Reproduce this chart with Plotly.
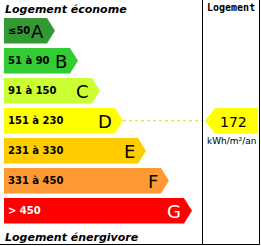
import plotly.graph_objects as go

# ---- data ----
classes = ["A", "B", "C", "D", "E", "F", "G"]
ranges = ["≤50", "51 à 90", "91 à 150", "151 à 230", "231 à 330", "331 à 450", "> 450"]
bar_lengths = [43, 66, 88, 111, 134, 157, 180]   # drawn length of each class bar body
colors = ["#339933", "#33cc33", "#ccff33", "#ffff00", "#ffcc00", "#ff9933", "#ff0000"]
text_colors = ["black"] * 6 + ["white"]
value = 172
value_class = "D"
unit = "kWh/m²/an"
top_label = "Logement économe"
bottom_label = "Logement énergivore"
column_title = "Logement"

# ---- layout constants ----
W, H = 261, 246
x0 = 4
bar_h = 25.5
gap = 4.5
y_first = 18
tip = 8

fig = go.Figure()
annotations = []

for i, (c, r, L, col, tc) in enumerate(zip(classes, ranges, bar_lengths, colors, text_colors)):
    top = y_first + i * (bar_h + gap)
    bot = top + bar_h
    mid = (top + bot) / 2
    xe = x0 + L
    fig.add_trace(go.Scatter(
        x=[x0, xe, xe + tip, xe, x0, x0],
        y=[top, top, mid, bot, bot, top],
        fill="toself", fillcolor=col, line=dict(width=0), mode="lines",
        hoverinfo="skip", showlegend=False))
    annotations.append(dict(x=x0 + 2, y=mid, text="<b>%s</b>" % r, showarrow=False,
                            xanchor="left", yanchor="middle",
                            font=dict(family="DejaVu Sans", size=10, color=tc)))
    annotations.append(dict(x=xe - 1, y=mid + 1, text=c, showarrow=False,
                            xanchor="right", yanchor="middle",
                            font=dict(family="DejaVu Sans", size=18, color=tc)))

# indicator
k = classes.index(value_class)
itop = y_first + k * (bar_h + gap)
ibot = itop + bar_h
imid = (itop + ibot) / 2
ix_tip = 205
ix_end = 258
fig.add_trace(go.Scatter(
    x=[ix_tip, ix_tip + 10, ix_end, ix_end, ix_tip + 10, ix_tip],
    y=[imid, itop, itop, ibot, ibot, imid],
    fill="toself", fillcolor=colors[k], line=dict(width=0), mode="lines",
    hoverinfo="skip", showlegend=False))
# dotted guide line
fig.add_trace(go.Scatter(
    x=[x0 + bar_lengths[k] + tip, ix_tip], y=[imid, imid], mode="lines",
    line=dict(color="#dddd00", width=1, dash="dot"), hoverinfo="skip", showlegend=False))

annotations.append(dict(x=233, y=imid + 1, text=str(value), showarrow=False,
                        xanchor="center", yanchor="middle",
                        font=dict(family="DejaVu Sans", size=14, color="black")))
annotations.append(dict(x=231, y=141, text=unit, showarrow=False,
                        xanchor="center", yanchor="middle",
                        font=dict(family="DejaVu Sans", size=9, color="black")))
annotations.append(dict(x=3, y=9, text="<b><i>%s</i></b>" % top_label, showarrow=False,
                        xanchor="left", yanchor="middle",
                        font=dict(family="DejaVu Sans", size=11, color="black")))
annotations.append(dict(x=3, y=237, text="<b><i>%s</i></b>" % bottom_label, showarrow=False,
                        xanchor="left", yanchor="middle",
                        font=dict(family="DejaVu Sans", size=11, color="black")))
annotations.append(dict(x=231, y=7, text="<b>%s</b>" % column_title, showarrow=False,
                        xanchor="center", yanchor="middle",
                        font=dict(family="DejaVu Sans Mono", size=10, color="black")))

shapes = [
    dict(type="line", x0=202.5, x1=202.5, y0=0, y1=244.5, line=dict(color="black", width=1)),
    dict(type="line", x0=259.5, x1=259.5, y0=0, y1=244.5, line=dict(color="black", width=1)),
    dict(type="line", x0=0, x1=259.5, y0=244.5, y1=244.5, line=dict(color="black", width=1)),
]

fig.update_layout(
    width=W, height=H, margin=dict(l=0, r=0, t=0, b=0),
    paper_bgcolor="white", plot_bgcolor="white",
    xaxis=dict(range=[0, W], visible=False, fixedrange=True),
    yaxis=dict(range=[H, 0], visible=False, fixedrange=True),
    annotations=annotations, shapes=shapes, showlegend=False)

fig.write_html("out.html", config={"displayModeBar": False})
